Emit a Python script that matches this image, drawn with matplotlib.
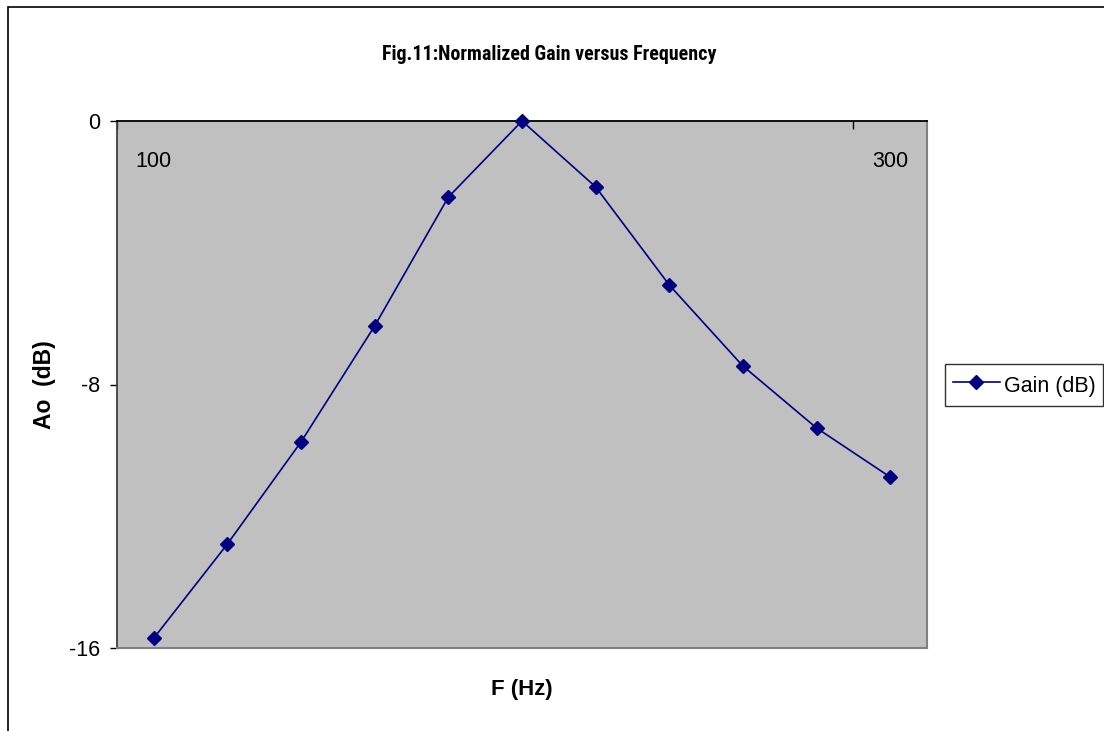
import matplotlib
matplotlib.use("Agg")
import matplotlib.pyplot as plt
from matplotlib.patches import Rectangle
from matplotlib.lines import Line2D

freq = [100, 120, 140, 160, 180, 200, 220, 240, 260, 280, 300]
gain_db = [-15.7, -12.84, -9.74, -6.22, -2.31, 0.0, -2.0, -4.98, -7.44, -9.32, -10.81]
y_ticks = [0, -8, -16]
x_label_freqs = [100, 300]

plt.rcParams['font.family'] = ['Liberation Sans', 'DejaVu Sans']

W, H = 1104, 731
fig = plt.figure(figsize=(W / 100, H / 100), dpi=100)

# outer chart border (only left/top visible)
fig.patches.append(Rectangle((8 / W, -0.2), 1.5, 1.2 - 7 / H, transform=fig.transFigure,
                             fill=False, edgecolor='black', lw=1.2))

ax = fig.add_axes([117 / W, 1 - 648 / H, (927 - 117) / W, (648 - 121) / H])
ax.set_facecolor('#C0C0C0')

xs = list(range(len(freq)))
ax.plot(xs, gain_db, color='#000080', lw=1.2, marker='D', markersize=7,
        markerfacecolor='#000080', markeredgecolor='#000080', label='Gain (dB)',
        clip_on=False, zorder=5)

ax.set_xlim(-0.5, len(freq) - 0.5)
ax.set_ylim(-16, 0)

ax.set_yticks(y_ticks)
ax.set_yticklabels([str(v) for v in y_ticks])
ax.tick_params(axis='y', direction='out', length=5, width=1, labelsize=15.5, pad=7, color='black')

# category axis at top (crosses at 0), labels below it
major = [freq.index(f) for f in x_label_freqs]
ax.set_xticks(major)
ax.set_xticklabels([str(f) for f in x_label_freqs])
ax.set_xticks([-0.5, 9.5], minor=True)
ax.xaxis.set_ticks_position('top')
ax.tick_params(axis='x', which='major', length=0, labeltop=True, labelbottom=False,
               labelsize=15.5, pad=-37)
ax.tick_params(axis='x', which='minor', direction='in', length=6, width=1, color='black',
               top=True, bottom=False)

ax.spines['top'].set_color('black')
ax.spines['top'].set_linewidth(1.3)
ax.spines['left'].set_color('#404040')
ax.spines['left'].set_linewidth(1.3)
for s in ('right', 'bottom'):
    ax.spines[s].set_color('#808080')
    ax.spines[s].set_linewidth(1.5)

fig.text(549 / W, 1 - 54 / H, 'Fig.11:Normalized Gain versus Frequency',
         ha='center', va='center', fontsize=14.4, fontweight='bold',
         family=['Roboto Condensed', 'Liberation Sans Narrow', 'Liberation Sans', 'DejaVu Sans'])
fig.text(522 / W, 1 - 690 / H, 'F (Hz)', ha='center', va='center', fontsize=16, fontweight='bold')
fig.text(45 / W, 1 - 385 / H, 'Ao  (dB)', ha='center', va='center', fontsize=16.5,
         fontweight='bold', rotation=90)

leg = fig.legend(handles=[Line2D([], [], color='#000080', lw=1.2, marker='D', markersize=7)],
                 labels=['Gain (dB)'], loc='center left',
                 bbox_to_anchor=(945 / W, 1 - 385 / H), fontsize=15.5, frameon=True,
                 fancybox=False, edgecolor='black', borderpad=0.35, handlelength=2.2,
                 handleheight=1.6, handletextpad=0.2, borderaxespad=0)
leg.get_frame().set_linewidth(1.0)

fig.savefig('out.png', dpi=100)
